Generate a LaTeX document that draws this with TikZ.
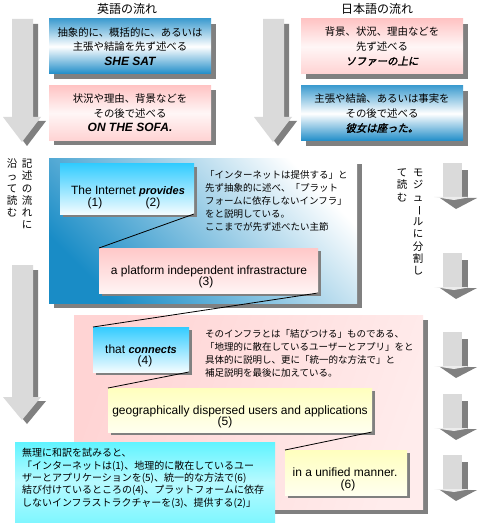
\documentclass[tikz,border=0pt]{standalone}
\usepackage{fontspec}
\usepackage{graphicx}
\setmainfont{Liberation Sans}
\newfontfamily\jp{Noto Sans CJK JP}
\newfontfamily\jpbi{Noto Sans CJK JP}[FakeSlant=0.2,FakeBold=2]
\usetikzlibrary{shadows}
\definecolor{bandblue}{RGB}{30,140,200}
\definecolor{midblue}{RGB}{25,140,198}
\definecolor{bandpink}{RGB}{255,196,196}
\definecolor{skyblue}{RGB}{51,204,255}
\definecolor{lpink}{RGB}{255,200,200}
\definecolor{bigpink}{RGB}{255,212,212}
\definecolor{lyellow}{RGB}{255,255,190}
\definecolor{cyanbox}{RGB}{96,244,255}
\definecolor{shadowgray}{RGB}{128,128,128}
\definecolor{arrowgray}{RGB}{218,218,218}
\newcommand\enbi{\fontsize{12}{14.5}\selectfont\rmfamily\bfseries\itshape}
\newcommand\jbi{\jpbi\fontsize{10.4}{14.5}\selectfont}
\tikzset{
  every node/.style={inner sep=0pt, outer sep=0pt},
  topbox/.style={minimum width=162, minimum height=55, font=\jp\fontsize{10.4}{14.5}\selectfont, align=center},
  bigshadow/.style={drop shadow={shadow xshift=5pt,shadow yshift=-5pt,fill=shadowgray,opacity=1}},
  smallshadow/.style={drop shadow={shadow xshift=3pt,shadow yshift=-3pt,fill=shadowgray,opacity=1}},
  blueband/.style={top color=bandblue!85!white, bottom color=bandblue, middle color=white},
  pinkband/.style={top color=bandpink, bottom color=bandpink!75!white, middle color=bandpink!15!white},
  skyfill/.style={top color=skyblue, bottom color=skyblue!6!white},
  pinkfill/.style={top color=lpink, bottom color=lpink!20!white},
  yellowfill/.style={top color=lyellow, bottom color=lyellow!25!white},
  title/.style={font=\jp\fontsize{12}{14}\selectfont},
  note/.style={font=\jp\fontsize{9.5}{13}\selectfont, align=left, anchor=north west},
  en/.style={font=\rmfamily\fontsize{12}{14}\selectfont, anchor=base},
  vt/.style={font=\jp\fontsize{10.5}{12.3}\selectfont, align=center, anchor=north},
  connector/.style={draw=black, line width=0.8pt},
  arrowlight/.style={fill=arrowgray},
  arrowtip/.style={fill=arrowgray!50!white},
  arrowshadow/.style={fill=shadowgray}
}
\begin{document}
\begin{tikzpicture}[x=1pt,y=-1pt]
\useasboundingbox[fill=white] (0,0) rectangle (480,529);

% titles
\node[title] (tEn) at (127,9) {英語の流れ};
\node[title] (tJa) at (377,9) {日本語の流れ};

% big arrows
\foreach \dx/\top/\head/\tip in {0/19/117/142, 251/19/117/142, 0/265/397/420}{
  \begin{scope}[shift={(\dx,0)}]
    \fill[arrowshadow] (17,\top+5) -- (38,\top+5) -- (38,\head+4) -- (46,\head+4) -- (27,\tip+4) -- (8,\head+4) -- (17,\head+4) -- cycle;
    \fill[arrowlight] (12,\top) -- (33,\top) -- (33,\head) -- (41,\head) -- (22,\tip) -- (3,\head) -- (12,\head) -- cycle;
  \end{scope}
}

% small arrows on the right
\foreach \t in {163,253,332,394,455}{
  \fill[arrowshadow] (462,\t+7) rectangle (468,\t+35);
  \fill[arrowshadow] (440,\t+35) -- (477,\t+35) -- (456,\t+46) -- cycle;
  \fill[arrowlight] (443,\t) rectangle (462,\t+35);
  \fill[arrowtip] (434,\t+34) -- (471,\t+34) -- (454,\t+37) -- cycle;
}

% top boxes
\node[topbox, blueband, bigshadow] (b1) at (130,46.5) {抽象的に、概括的に、あるいは\\主張や結論を先ず述べる\\\enbi SHE SAT};
\node[topbox, pinkband, bigshadow] (b2) at (130,113) {状況や理由、背景などを\\その後で述べる\\\enbi ON THE SOFA.};
\node[topbox, pinkband, bigshadow] (b3) at (382,46.5) {背景、状況、理由などを\\先ず述べる\\\jbi ソファーの上に};
\node[topbox, blueband, bigshadow] (b4) at (382,113.5) {主張や結論、あるいは事実を\\その後で述べる\\\jbi 彼女は座った。};

% vertical texts
\node[vt] (v1) at (27,159) {記\\述\\の\\流\\れ\\に};
\node[vt] (v2) at (12,159) {沿\\っ\\て\\読\\む};
\node[vt] (v3) at (418,169) {モ\\ジ\\ュ\\\rotatebox[origin=c]{-90}{ー}\\ル\\に\\分\\割\\し};
\node[vt] (v4) at (402,169) {て\\読\\む};

% middle blue area
\node[minimum width=308, minimum height=144, top color=white, bottom color=midblue, middle color=midblue!50!white, shading angle=-45, bigshadow] (mid) at (203,231) {};
\node[minimum width=134, minimum height=50, skyfill, smallshadow] (inet) at (127,189) {};
\node[en] (inetT) at (128,195) {The Internet {\bfseries\itshape\fontsize{11}{13}\selectfont provides}};
\node[en] (n1) at (95,206.5) {(1)};
\node[en] (n2) at (153,206.5) {(2)};
\node[note] (midnote) at (205,170.5) {「インターネットは提供する」と\\先ず抽象的に述べ、「プラット\\フォームに依存しないインフラ」\\をと説明している。\\ここまでが先ず述べたい主節};
\node[minimum width=219, minimum height=45, pinkfill, smallshadow] (plat) at (208.5,270.5) {};
\node[en] (platT) at (209,274.5) {a platform independent infrastracture};
\node[en] (n3) at (206,285.5) {(3)};

% lower pink area
\node[minimum width=349, minimum height=194, left color=bigpink, right color=bigpink!45!white, shading angle=70, bigshadow] (low) at (248.5,412) {};
\node[minimum width=96, minimum height=45, skyfill, smallshadow] (conn) at (141,349.5) {};
\node[en] (connT) at (141,353) {that {\bfseries\itshape\fontsize{11}{13}\selectfont connects}};
\node[en] (n4) at (145,364.5) {(4)};
\node[note] (lownote) at (205,329.5) {そのインフラとは「結びつける」ものである、\\「地理的に散在しているユーザーとアプリ」をと\\具体的に説明し、更に「統一的な方法で」と\\補足説明を最後に加えている。};
\node[minimum width=264, minimum height=44, yellowfill, smallshadow] (geo) at (240,410) {};
\node[en] (geoT) at (240,414) {geographically dispersed users and applications};
\node[en] (n5) at (225,425.5) {(5)};
\node[minimum width=122, minimum height=45, yellowfill, smallshadow] (unif) at (346,472.5) {};
\node[en] (unifT) at (345,476.5) {in a unified manner.};
\node[en] (n6) at (348,488) {(6)};

% cyan translation box
\node[minimum width=260, minimum height=80, top color=cyanbox, bottom color=cyanbox!80!white, middle color=cyanbox!45!white] (trans) at (145,482) {};
\node[font=\jp\fontsize{10}{12.3}\selectfont, align=left, anchor=north west] (transT) at (22,448.5) {無理に和訳を試みると、\\「インターネットは(1)、地理的に散在しているユー\\ザーとアプリケーションを(5)、統一的な方法で(6)\\結び付けているところの(4)、プラットフォームに依存\\しないインフラストラクチャーを(3)、提供する(2)」};

% connectors
\draw[connector] (inet.south east) -- (plat.north west);
\draw[connector] (plat.south east) -- (conn.north west);
\draw[connector] (conn.south east) -- (geo.north west);
\draw[connector] (geo.south east) -- (unif.north west);
\end{tikzpicture}
\end{document}
